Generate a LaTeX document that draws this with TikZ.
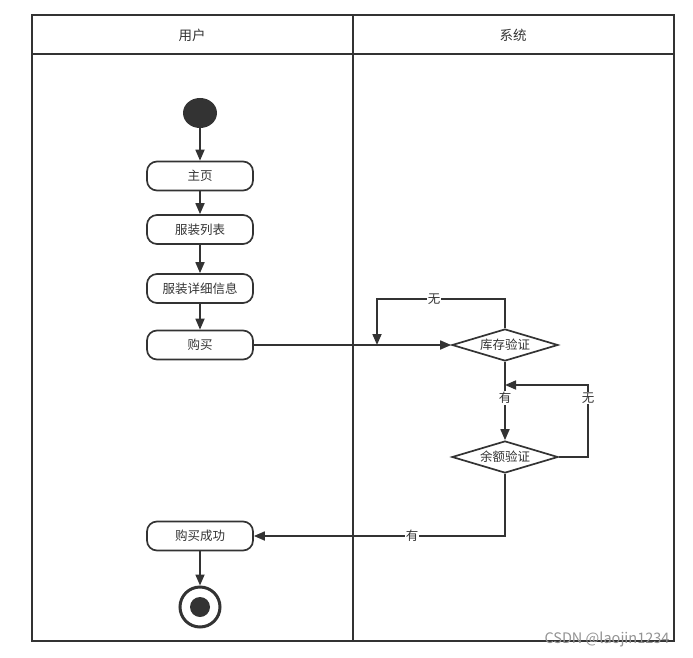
\documentclass[tikz,border=0pt]{standalone}
\usepackage{fontspec}
\setmainfont{Noto Sans CJK SC}
\usetikzlibrary{shapes.geometric,arrows.meta}
\definecolor{ink}{HTML}{333333}
\tikzset{
  actbox/.style={draw=ink, line width=1.7pt, rounded corners=10pt, minimum width=106pt, minimum height=29pt, inner sep=0pt, font=\fontsize{12.5pt}{14pt}\selectfont, text=ink},
  decbox/.style={draw=ink, line width=1.7pt, diamond, aspect=3.3, minimum width=106pt, minimum height=32pt, inner sep=0pt, font=\fontsize{12.5pt}{14pt}\selectfont, text=ink},
  flow/.style={draw=ink, line width=1.7pt, -{Triangle[length=11pt,width=9pt]}},
  lbl/.style={fill=white, inner sep=1pt, font=\fontsize{12.5pt}{14pt}\selectfont, text=ink},
  frame/.style={draw=ink, line width=1.7pt},
}
\begin{document}
\begin{tikzpicture}[x=1pt,y=-1pt]
\useasboundingbox (0,0) rectangle (693,658);
% swimlanes
\draw[frame] (32,15) rectangle (674,641);
\draw[frame] (32,54) -- (674,54);
\draw[frame] (353,15) -- (353,641);
\node[text=ink, font=\fontsize{13.5pt}{15pt}\selectfont] (lane1) at (192,35) {用户};
\node[text=ink, font=\fontsize{13.5pt}{15pt}\selectfont] (lane2) at (513,35) {系统};
% nodes
\node[ellipse, fill=ink, minimum width=34pt, minimum height=30pt, inner sep=0pt] (start) at (200,113) {};
\node[actbox] (zhuye) at (200,176) {主页};
\node[actbox] (liebiao) at (200,229.5) {服装列表};
\node[actbox] (xiangxi) at (200,288.5) {服装详细信息};
\node[actbox] (goumai) at (200,345) {购买};
\node[actbox] (chenggong) at (200,536) {购买成功};
\node[circle, draw=ink, line width=3pt, minimum size=40pt, inner sep=0pt] (end) at (200,607) {};
\node[circle, fill=ink, minimum size=20pt, inner sep=0pt] (endin) at (end.center) {};
\node[decbox] (kucun) at (505,345) {库存验证};
\node[decbox] (yue) at (505,457) {余额验证};
% coordinates
\coordinate (wuA) at (377,299);
\coordinate (jn) at (377,345);
\coordinate (yr) at (588,385);
\coordinate (ym) at (505,385);
% connectors
\draw[flow] (start) -- (zhuye);
\draw[flow] (zhuye) -- (liebiao);
\draw[flow] (liebiao) -- (xiangxi);
\draw[flow] (xiangxi) -- (goumai);
\draw[flow] (goumai.east) -- (kucun.west);
\draw[flow] (kucun.north) |- (wuA) -- (jn);
\node[lbl] (l1) at (434,299) {无};
\draw[flow] (kucun.south) -- (yue.north);
\node[lbl] (l2) at (505,398) {有};
\draw[flow] (yue.east) -| (yr) -- (ym);
\node[lbl] (l3) at (588,398) {无};
\draw[flow] (yue.south) |- (chenggong.east);
\node[lbl] (l4) at (412,536) {有};
\draw[flow] (chenggong) -- (end);
% watermark
\node[text=gray!85, font=\fontsize{14.5pt}{16pt}\selectfont] (wm) at (607,639) {CSDN @laojin1234};
\end{tikzpicture}
\end{document}
